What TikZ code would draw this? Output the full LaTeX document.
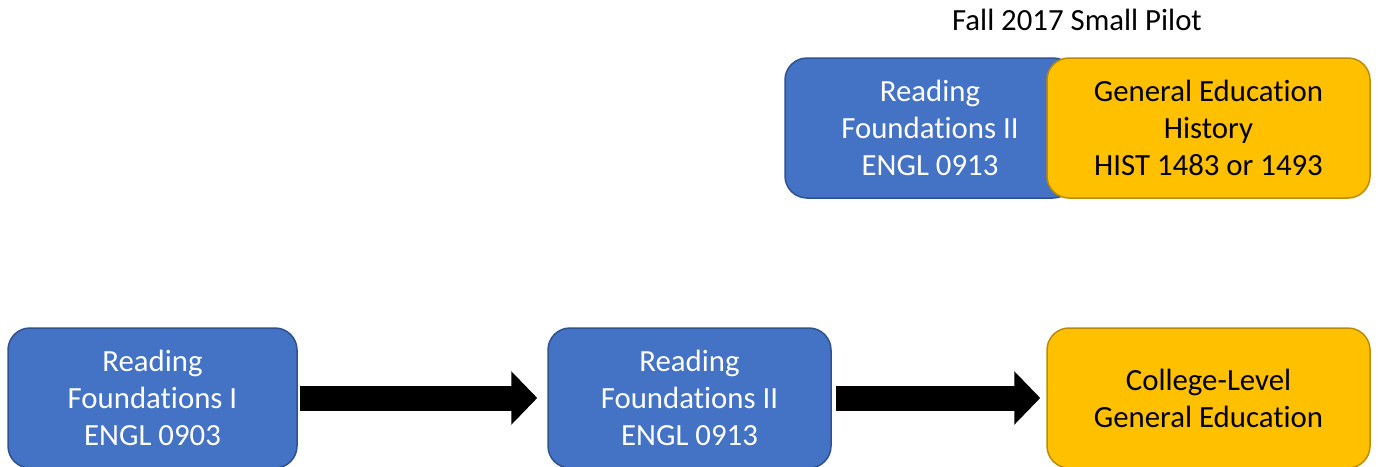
\documentclass[tikz,border=0pt]{standalone}
\usepackage{fontspec}
\setmainfont{Carlito}[Ligatures=NoCommon]
\usetikzlibrary{arrows.meta}
\definecolor{boxblue}{HTML}{4472C4}
\definecolor{blueedge}{HTML}{2F528F}
\definecolor{boxgold}{HTML}{FFC000}
\definecolor{goldedge}{HTML}{BC8C00}
\tikzset{
  box/.style={rounded corners=22pt, line width=1.5pt, inner sep=0pt,
    minimum height=140pt, align=center, font=\fontsize{30.8}{37}\selectfont},
  bluebox/.style={box, fill=boxblue, draw=blueedge, text=white},
  goldbox/.style={box, fill=boxgold, draw=goldedge, text=black},
  bigarrow/.style={line width=25pt, draw=black,
    -{Triangle[length=26pt,width=52pt]}},
  titletext/.style={font=\fontsize{30.8}{37}\selectfont, inner sep=0pt}
}
\begin{document}
\begin{tikzpicture}[x=1pt,y=-1pt]
\useasboundingbox (0,0) rectangle (1380,466);
\clip (0,0) rectangle (1380,466);
\node[titletext] (title) at (1077,20) {Fall 2017 Small Pilot};
\node[bluebox, minimum width=290pt] (rf2top) at (930,128) {Reading\\Foundations II\\ENGL 0913};
\node[goldbox, minimum width=323pt] (hist) at (1208.5,128) {General Education\\History\\HIST 1483 or 1493};
\node[bluebox, minimum width=289pt] (rf1) at (152.5,398) {Reading\\Foundations I\\ENGL 0903};
\node[bluebox, minimum width=283pt] (rf2) at (689.5,398) {Reading\\Foundations II\\ENGL 0913};
\node[goldbox, minimum width=323pt] (coll) at (1208.5,398) {College-Level\\General Education};
\draw[bigarrow, shorten <=2pt, shorten >=10pt] (rf1.east) -- (rf2.west);
\draw[bigarrow, shorten <=4pt, shorten >=6pt] (rf2.east) -- (coll.west);
\end{tikzpicture}
\end{document}
